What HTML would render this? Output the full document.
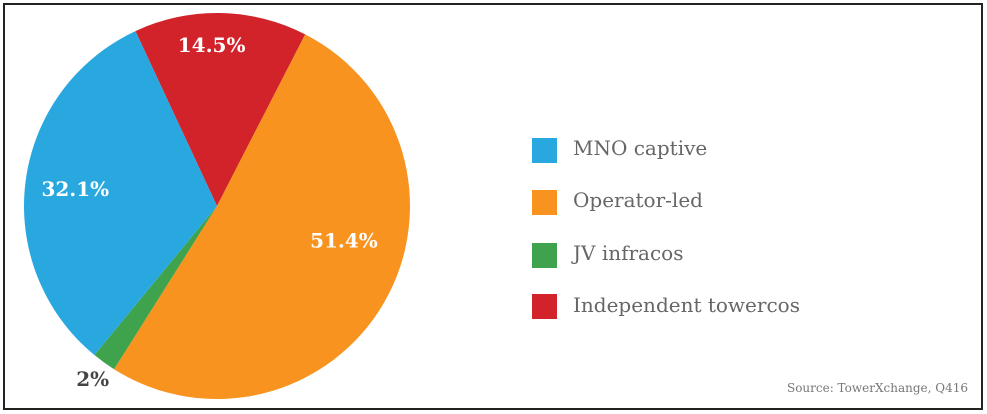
<!DOCTYPE html>
<html><head><meta charset="utf-8"><style>
body{margin:0;background:#fff;width:987px;height:414px;overflow:hidden}
#frame{position:absolute;left:3px;top:3px;width:976px;height:403px;border:2px solid #222}
.leg{position:absolute;left:532px;width:25px;height:25px}
.lt{position:absolute;left:573px;font:20px "DejaVu Serif",serif;color:#666}
</style></head><body>
<div id="frame"></div>
<svg id="pie" width="987" height="414" style="position:absolute;left:0;top:0"></svg>
<div class="leg" style="top:138px;background:#29a8e0"></div>
<div class="lt" style="top:136px">MNO captive</div>
<div class="leg" style="top:190px;background:#f7931e"></div>
<div class="lt" style="top:188px">Operator-led</div>
<div class="leg" style="top:243px;background:#3fa34d"></div>
<div class="lt" style="top:241px">JV infracos</div>
<div class="leg" style="top:294px;background:#d2232a"></div>
<div class="lt" style="top:293px">Independent towercos</div>
<div style="position:absolute;right:19px;top:381px;font:12px 'DejaVu Serif',serif;color:#777">Source: TowerXchange, Q416</div>
<script>
const categories=["Independent towercos","Operator-led","JV infracos","MNO captive"];
const values=[14.5,51.4,2,32.1];
const labels=["14.5%","51.4%","2%","32.1%"];
const colors=["#d2232a","#f7931e","#3fa34d","#29a8e0"];
// label placement (angle offset from slice middle, radius fraction) — styling only
const labelShift=[[-3,0.84],[-15,0.68],[0,1.1],[0,0.74]];
const cx=217,cy=206,r=193,start=-25;
const svg=document.getElementById('pie');
const NS="http://www.w3.org/2000/svg";
const total=values.reduce((a,b)=>a+b,0);
function pt(deg,rad){const a=deg*Math.PI/180;return [cx+rad*Math.sin(a),cy-rad*Math.cos(a)];}
let ang=start;
values.forEach((v,i)=>{
  const sweep=v/total*360,a0=ang,a1=ang+sweep;ang=a1;
  const p0=pt(a0,r),p1=pt(a1,r);
  const p=document.createElementNS(NS,'path');
  p.setAttribute('d',`M${cx},${cy}L${p0[0]},${p0[1]}A${r},${r} 0 ${sweep>180?1:0} 1 ${p1[0]},${p1[1]}Z`);
  p.setAttribute('fill',colors[i]);
  
  
  svg.appendChild(p);
  const mid=(a0+a1)/2;
  const small=v<5;
  const lp=pt(mid+labelShift[i][0],r*labelShift[i][1]);
  const t=document.createElementNS(NS,'text');
  t.setAttribute('x',lp[0]);t.setAttribute('y',lp[1]+8);
  t.setAttribute('text-anchor','middle');
  t.setAttribute('font-family','DejaVu Serif, serif');
  t.setAttribute('font-weight','bold');
  t.setAttribute('font-size','20');
  t.setAttribute('fill',small?'#444':'#fff');
  t.textContent=labels[i];
  
  
  svg.appendChild(t);
});
</script>
</body></html>
